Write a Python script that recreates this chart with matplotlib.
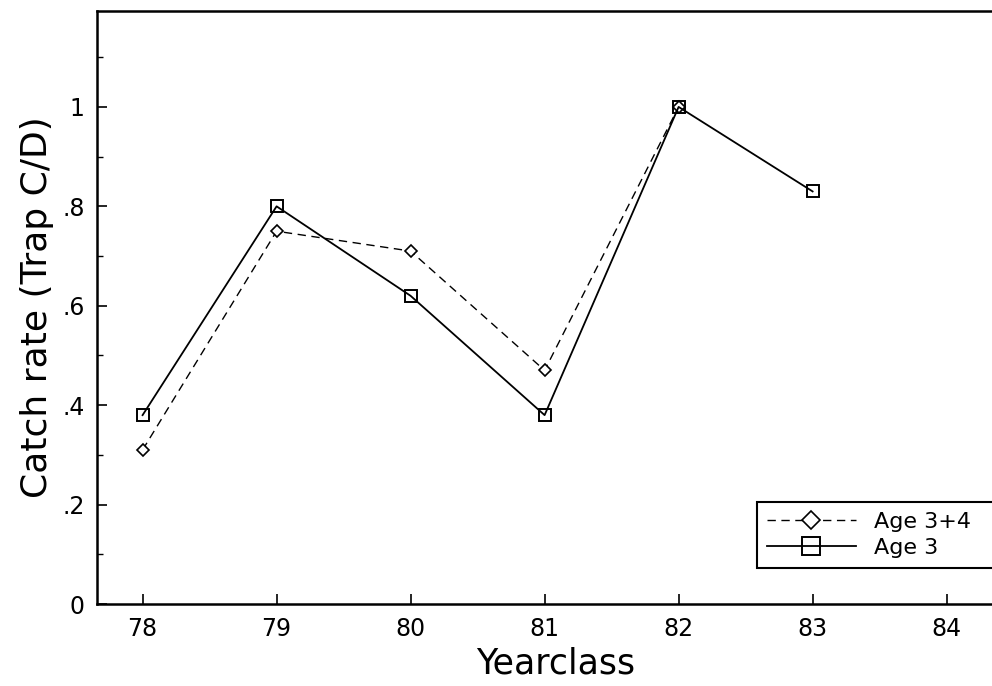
import matplotlib
matplotlib.use("Agg")
import matplotlib.pyplot as plt
from matplotlib.ticker import FixedLocator, FixedFormatter, MultipleLocator

# yearclass values
years_34 = [78, 79, 80, 81, 82]
age34 = [0.31, 0.75, 0.71, 0.47, 1.00]
years_3 = [78, 79, 80, 81, 82, 83]
age3 = [0.38, 0.80, 0.62, 0.38, 1.00, 0.83]

xticks = [78, 79, 80, 81, 82, 83, 84]
yticks = [0, 0.2, 0.4, 0.6, 0.8, 1.0]
ytick_labels = ['0', '.2', '.4', '.6', '.8', '1']

fig = plt.figure(figsize=(9.92, 6.86), dpi=100)
ax = fig.add_axes([0.0978, 0.1195, 0.924, 0.8645])

ax.plot(years_34, age34, color='black', linestyle=(0, (6, 4)), linewidth=1.0,
        marker='D', markersize=6.5, markerfacecolor='white', markeredgecolor='black',
        markeredgewidth=1.2, label='Age 3+4')
ax.plot(years_3, age3, color='black', linestyle='-', linewidth=1.3,
        marker='s', markersize=9, markerfacecolor='none', markeredgecolor='black',
        markeredgewidth=1.4, label='Age 3')

ax.set_xlim(77.66, 84.5)
ax.set_ylim(0, 1.193)

ax.xaxis.set_major_locator(FixedLocator(xticks))
ax.yaxis.set_major_locator(FixedLocator(yticks))
ax.yaxis.set_major_formatter(FixedFormatter(ytick_labels))
ax.yaxis.set_minor_locator(MultipleLocator(0.1))

ax.tick_params(axis='both', which='major', direction='in', length=7, width=1.2,
               labelsize=17, pad=9)
ax.tick_params(axis='y', which='minor', direction='in', length=4, width=1.0)
ax.tick_params(top=False, right=False)

for side in ['left', 'bottom', 'top']:
    ax.spines[side].set_linewidth(1.8)
ax.spines['right'].set_visible(False)

ax.set_xlabel('Yearclass', fontsize=25, labelpad=4)
ax.set_ylabel('Catch rate (Trap C/D)', fontsize=26, labelpad=6)

# legend box runs off the right edge like in the scan
leg = ax.legend(loc='upper left', bbox_to_anchor=(0.72, 0.0, 0.3, 0.172),
                mode='expand', borderaxespad=0, fontsize=16, handlelength=4.0,
                markerscale=1.4, fancybox=False, framealpha=1, edgecolor='black',
                borderpad=0.45, labelspacing=0.25)
leg.get_frame().set_linewidth(1.5)

fig.savefig('out.png', dpi=100)
